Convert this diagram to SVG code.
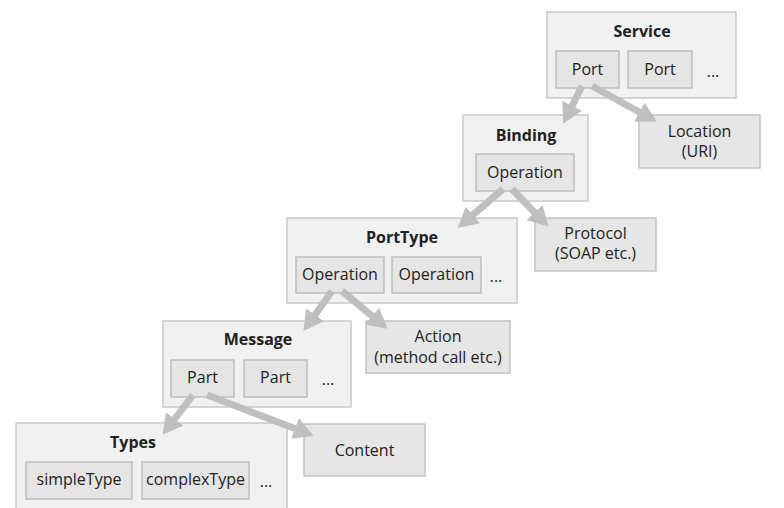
<svg xmlns="http://www.w3.org/2000/svg" width="784" height="508" viewBox="0 0 784 508">
<defs>
<marker id="ah" viewBox="0 0 20 22" refX="7" refY="11" markerWidth="20" markerHeight="22" markerUnits="userSpaceOnUse" orient="auto">
<path d="M0,0 L20,11 L0,22 z" fill="#bfbfbf"/>
</marker>
<style>
.outer{fill:#f1f1f2;stroke:#c9c9c9;stroke-width:1.5}
.inner{fill:#e5e5e5;stroke:#bdbdbd;stroke-width:1.5}
.leaf{fill:#e6e6e6;stroke:#c2c2c2;stroke-width:1.5}
text{font-family:"Open Sans","Liberation Sans",sans-serif;font-size:16px;fill:#222222;text-anchor:middle}
.t{font-weight:bold}
.conn line{stroke:#bfbfbf;stroke-width:7;marker-end:url(#ah)}
</style>
</defs>
<rect width="784" height="508" fill="#ffffff"/>
<g id="service">
<rect class="outer" x="547" y="12" width="189" height="86"/>
<text class="t" x="642" y="37">Service</text>
<rect class="inner" x="556" y="51" width="63" height="37"/>
<text x="587.5" y="75">Port</text>
<rect class="inner" x="628" y="51" width="64" height="37"/>
<text x="660" y="75">Port</text>
<text x="713" y="77">...</text>
</g>
<g id="location">
<rect class="leaf" x="639" y="115" width="121" height="53"/>
<text x="699.5" y="136.5">Location</text>
<text x="699.5" y="157">(URI)</text>
</g>
<g id="binding">
<rect class="outer" x="463" y="115" width="125" height="86"/>
<text class="t" x="526" y="141">Binding</text>
<rect class="inner" x="476" y="154" width="98" height="37"/>
<text x="525" y="178">Operation</text>
</g>
<g id="protocol">
<rect class="leaf" x="535" y="218" width="121" height="53"/>
<text x="595.5" y="238.5">Protocol</text>
<text x="595.5" y="259">(SOAP etc.)</text>
</g>
<g id="porttype">
<rect class="outer" x="287" y="218" width="230" height="85"/>
<text class="t" x="402" y="243">PortType</text>
<rect class="inner" x="296" y="257" width="88" height="36"/>
<text x="340" y="280">Operation</text>
<rect class="inner" x="392" y="257" width="89" height="36"/>
<text x="436.5" y="280">Operation</text>
<text x="496" y="282">...</text>
</g>
<g id="action">
<rect class="leaf" x="366" y="321" width="144" height="52"/>
<text x="438" y="342">Action</text>
<text x="438" y="362.5">(method call etc.)</text>
</g>
<g id="message">
<rect class="outer" x="163" y="321" width="188" height="86"/>
<text class="t" x="258" y="345">Message</text>
<rect class="inner" x="171" y="360" width="63" height="37"/>
<text x="202.5" y="383">Part</text>
<rect class="inner" x="244" y="360" width="63" height="37"/>
<text x="275.5" y="383">Part</text>
<text x="328" y="385">...</text>
</g>
<g id="content">
<rect class="leaf" x="304" y="424" width="121" height="52"/>
<text x="364.5" y="456">Content</text>
</g>
<g id="types">
<rect class="outer" x="16" y="423" width="271" height="95"/>
<text class="t" x="133" y="448">Types</text>
<rect class="inner" x="26" y="462" width="106" height="37"/>
<text x="79" y="485">simpleType</text>
<rect class="inner" x="142" y="462" width="107" height="37"/>
<text x="195.5" y="485">complexType</text>
<text x="266" y="487">...</text>
</g>
<g id="connectors" class="conn">
<line x1="582" y1="86" x2="569" y2="112"/>
<line x1="592" y1="86" x2="645.5" y2="115.5"/>
<line x1="503" y1="189" x2="467.5" y2="219.5"/>
<line x1="512" y1="189" x2="539.5" y2="217.5"/>
<line x1="332" y1="291" x2="311" y2="320.5"/>
<line x1="342" y1="291" x2="377.5" y2="320.5"/>
<line x1="193" y1="395" x2="170.5" y2="424.5"/>
<line x1="207" y1="395" x2="301.5" y2="431"/>
</g>
</svg>
